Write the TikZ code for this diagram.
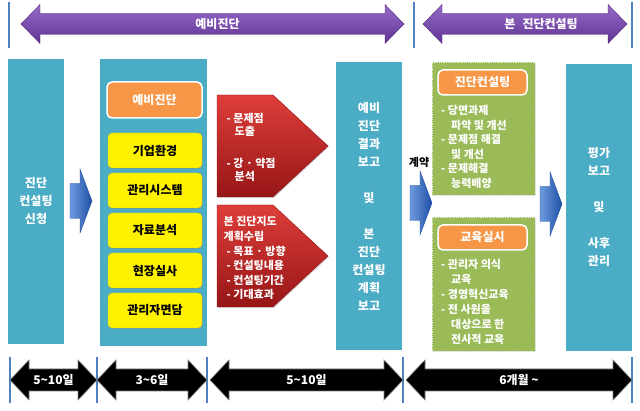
\documentclass[tikz,border=0pt]{standalone}
\usepackage{fontspec}
\setmainfont{Noto Sans CJK KR}
\usetikzlibrary{shadows}

\definecolor{boxteal}{RGB}{75,172,198}
\definecolor{barblue}{RGB}{79,129,189}
\definecolor{darkpurple}{RGB}{96,50,148}
\definecolor{lightpurple}{RGB}{150,108,198}
\definecolor{darkred}{RGB}{150,22,22}
\definecolor{brightred}{RGB}{222,62,58}
\definecolor{boxorange}{RGB}{247,150,70}
\definecolor{boxgreen}{RGB}{155,187,89}
\definecolor{lightblue}{RGB}{110,155,222}
\definecolor{darkblue}{RGB}{30,78,165}

\tikzset{
	stage/.style={draw=white, line width=1.2pt, fill=boxteal, inner sep=0pt,
		text=white, align=center, font=\bfseries\fontsize{12}{18}\selectfont,
		drop shadow={shadow xshift=1pt, shadow yshift=-1pt, opacity=0.3}},
	greenbox/.style={draw=white!80!boxgreen, densely dotted, line width=0.8pt,
		fill=boxgreen, inner sep=0pt,
		drop shadow={shadow xshift=1pt, shadow yshift=-1pt, opacity=0.3}},
	tagbox/.style={draw=white, line width=1.5pt, rounded corners=5pt, fill=boxorange,
		inner sep=0pt, text=white, font=\bfseries\fontsize{12}{14}\selectfont},
	itembox/.style={draw=yellow!75!black, rounded corners=4pt, fill=yellow, inner sep=0pt,
		minimum width=94, minimum height=35, font=\bfseries\fontsize{12}{14}\selectfont,
		drop shadow={shadow xshift=1pt, shadow yshift=-1pt, opacity=0.35}},
	bullets/.style={inner sep=0pt, anchor=north west, align=left, text=white},
	purplearrow/.style={top color=lightpurple, bottom color=darkpurple, draw=darkpurple!80!black, line width=0.4pt},
	blackarrow/.style={fill=black, draw=gray, line width=0.6pt},
	redarrow/.style={top color=brightred, bottom color=darkred, draw=darkred, line width=0.4pt,
		drop shadow={shadow xshift=1pt, shadow yshift=-1pt, opacity=0.3}},
	bluearrow/.style={left color=lightblue, right color=darkblue, draw=darkblue, line width=0.4pt},
	bar/.style={draw=barblue, line width=2.4pt},
	spanlabel/.style={text=white, font=\bfseries\fontsize{12}{14}\selectfont, inner sep=0pt}
}

\begin{document}
\begin{tikzpicture}[x=1pt, y=-1pt]
	\useasboundingbox (0,0) rectangle (640,411);

	% === PHASE ARROWS === (((
	\foreach \x in {9,414,632} \draw [bar] (\x,2) -- (\x,48);
	\foreach \xa/\xb in {21/404, 423/627}
		\draw [purplearrow] (\xa,24) -- (\xa+19,4.5) -- (\xa+19,13.5) -- (\xb-19,13.5)
		-- (\xb-19,4.5) -- (\xb,24) -- (\xb-19,43.5) -- (\xb-19,34.5) -- (\xa+19,34.5)
		-- (\xa+19,43.5) -- cycle;
	\node [spanlabel] (prelim) at (217.5,24) {예비진단};
	\node [spanlabel] (mainphase) at (541,24) {본\hspace{0.6em}진단컨설팅};
	% )))

	% === STAGE BOXES === (((
	\node [stage, minimum width=58, minimum height=287] (apply) at (36,201.5)
		{진단\\컨설팅\\신청};
	\node [stage, minimum width=109, minimum height=289] (survey) at (153.5,202.5) {};
	\node [stage, minimum width=68, minimum height=290] (report) at (369,206)
		{예비\\진단\\결과\\보고\\[18pt]및\\[18pt]본\\진단\\컨설팅\\계획\\보고};
	\node [stage, minimum width=68, minimum height=289] (review) at (599,207.5)
		{평가\\보고\\[18pt]및\\[18pt]사후\\관리};
	% )))

	% === PRELIMINARY ITEMS === (((
	\node [tagbox, minimum width=95, minimum height=36] (prelimtag) at (154.5,100) {예비진단};
	\foreach \txt [count=\i] in {기업환경, 관리시스템, 자료분석, 현장실사, 관리자면담}
		\node [itembox] (item\i) at (155,110.5+40*\i) {\txt};
	% )))

	% === RED ARROWS === (((
	\foreach \yt/\yb in {95/197, 205/307}
		\draw [redarrow] (217,\yt) -- (273,\yt) -- (328,{(\yt+\yb)/2}) -- (273,\yb)
		-- (217,\yb) -- cycle;
	\node [bullets, font=\bfseries\fontsize{11}{13}\selectfont] (findings) at (226.5,113.5)
		{- 문제점\\\hspace*{8pt}도출\\[19pt]- 강 · 약점\\\hspace*{8pt}분석};
	\node [bullets, font=\bfseries\fontsize{11}{14.6}\selectfont] (plan) at (223.5,216.5)
		{본 진단지도\\계획수립\\\hspace*{3pt}- 목표 · 방향\\\hspace*{3pt}- 컨설팅내용
		\\\hspace*{3pt}- 컨설팅기간\\\hspace*{3pt}- 기대효과};
	% )))

	% === MAIN CONSULTING === (((
	\node [greenbox, minimum width=103, minimum height=133] (consult) at (483.5,128.5) {};
	\node [greenbox, minimum width=103, minimum height=134] (training) at (483.5,284) {};
	\node [tagbox, minimum width=89, minimum height=25] (consulttag) at (482.5,82.5) {진단컨설팅};
	\node [tagbox, minimum width=89, minimum height=25] (trainingtag) at (482.5,237.5) {교육실시};
	\node [bullets, font=\bfseries\fontsize{11}{14.6}\selectfont] (consultlist) at (441,105)
		{- 당면과제\\\hspace*{10pt}파악 및 개선\\- 문제점 해결\\\hspace*{10pt}및 개선
		\\- 문제해결\\\hspace*{10pt}능력배양};
	\node [bullets, font=\bfseries\fontsize{11}{15}\selectfont] (traininglist) at (441,259.5)
		{- 관리자 의식\\\hspace*{10pt}교육\\- 경영혁신교육\\- 전 사원을
		\\\hspace*{10pt}대상으로 한\\\hspace*{10pt}전사적 교육};
	% )))

	% === BLUE ARROWS === (((
	\foreach \xa/\yc in {70/201, 410/203, 540/204}
		\draw [bluearrow] (\xa,\yc-17.5) -- (\xa+10,\yc-17.5) -- (\xa+10,\yc-32) -- (\xa+22,\yc)
		-- (\xa+10,\yc+32) -- (\xa+10,\yc+17.5) -- (\xa,\yc+17.5) -- cycle;
	\node [font=\bfseries\fontsize{11}{13}\selectfont, inner sep=0pt] (contract) at (419,162) {계약};
	% )))

	% === DURATIONS === (((
	\foreach \x in {10,97,207,403,632} \draw [bar] (\x,357) -- (\x,403);
	\foreach \xa/\xb/\txt [count=\i] in {10/97/5\textasciitilde10일, 97/207/3\textasciitilde6일,
		210/403/5\textasciitilde10일, 406/632/6개월 \textasciitilde} {
		\draw [blackarrow] (\xa,380) -- (\xa+19,360) -- (\xa+19,369) -- (\xb-19,369)
		-- (\xb-19,360) -- (\xb,380) -- (\xb-19,400) -- (\xb-19,391) -- (\xa+19,391)
		-- (\xa+19,400) -- cycle;
		\node [spanlabel] (span\i) at ({(\xa+\xb)/2},380) {\txt};
	}
	% )))

\end{tikzpicture}
\end{document}
